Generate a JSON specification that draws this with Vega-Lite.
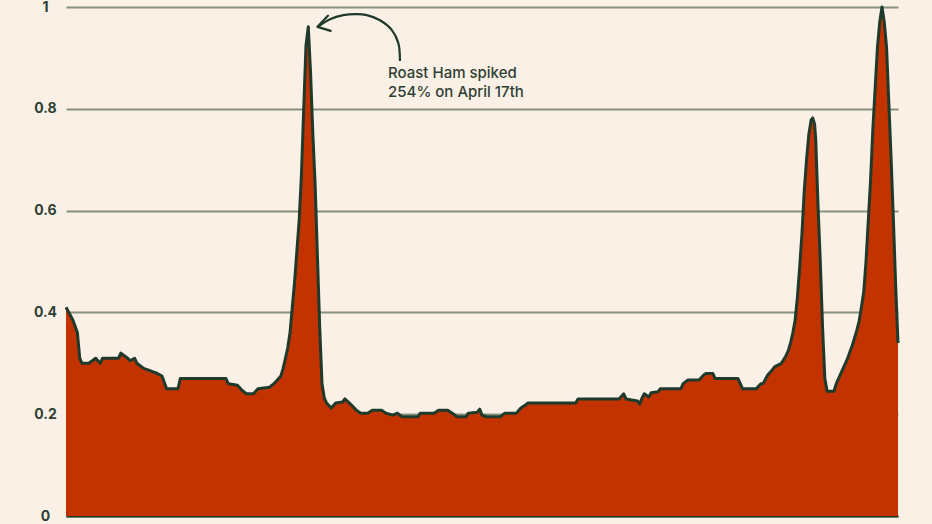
{
  "$schema": "https://vega.github.io/schema/vega-lite/v6.json",
  "width": 832,
  "height": 509,
  "autosize": "none",
  "padding": {"left": 66, "top": 7, "right": 34, "bottom": 8},
  "background": "#FAF0E6",
  "config": {"view": {"stroke": null}, "font": "Inter"},
  "datasets": {
    "series": [
      {"day": 1, "value": 0.41}, {"day": 4, "value": 0.385}, {"day": 6, "value": 0.36}, {"day": 7, "value": 0.31},
      {"day": 8, "value": 0.30}, {"day": 11, "value": 0.30}, {"day": 14, "value": 0.31}, {"day": 16, "value": 0.30},
      {"day": 17, "value": 0.31}, {"day": 24, "value": 0.31}, {"day": 25, "value": 0.32}, {"day": 28, "value": 0.31},
      {"day": 29, "value": 0.305}, {"day": 31, "value": 0.31}, {"day": 32, "value": 0.30}, {"day": 35, "value": 0.29},
      {"day": 38, "value": 0.285}, {"day": 41, "value": 0.28}, {"day": 43, "value": 0.275}, {"day": 45, "value": 0.25},
      {"day": 50, "value": 0.25}, {"day": 51, "value": 0.27}, {"day": 71, "value": 0.27}, {"day": 72, "value": 0.26},
      {"day": 76, "value": 0.257}, {"day": 78, "value": 0.247}, {"day": 80, "value": 0.24}, {"day": 83, "value": 0.24},
      {"day": 85, "value": 0.25}, {"day": 90, "value": 0.253}, {"day": 92, "value": 0.26}, {"day": 95, "value": 0.275},
      {"day": 96, "value": 0.29}, {"day": 97, "value": 0.31}, {"day": 98, "value": 0.33}, {"day": 99, "value": 0.36},
      {"day": 100, "value": 0.41}, {"day": 101, "value": 0.46}, {"day": 102, "value": 0.52}, {"day": 103, "value": 0.58},
      {"day": 104, "value": 0.67}, {"day": 105, "value": 0.80}, {"day": 106, "value": 0.925}, {"day": 107, "value": 0.961},
      {"day": 108, "value": 0.87}, {"day": 109, "value": 0.75}, {"day": 110, "value": 0.65}, {"day": 111, "value": 0.51},
      {"day": 112, "value": 0.37}, {"day": 113, "value": 0.26}, {"day": 114, "value": 0.232}, {"day": 115, "value": 0.222},
      {"day": 117, "value": 0.212}, {"day": 119, "value": 0.222}, {"day": 122, "value": 0.224}, {"day": 123, "value": 0.23},
      {"day": 125, "value": 0.222}, {"day": 128, "value": 0.208}, {"day": 130, "value": 0.202}, {"day": 133, "value": 0.202},
      {"day": 135, "value": 0.208}, {"day": 139, "value": 0.208}, {"day": 141, "value": 0.202}, {"day": 144, "value": 0.198},
      {"day": 146, "value": 0.202}, {"day": 148, "value": 0.195}, {"day": 155, "value": 0.195}, {"day": 156, "value": 0.202},
      {"day": 162, "value": 0.202}, {"day": 164, "value": 0.208}, {"day": 168, "value": 0.208}, {"day": 170, "value": 0.202},
      {"day": 172, "value": 0.195}, {"day": 176, "value": 0.195}, {"day": 177, "value": 0.202}, {"day": 181, "value": 0.204},
      {"day": 182, "value": 0.21}, {"day": 183, "value": 0.198}, {"day": 185, "value": 0.195}, {"day": 191, "value": 0.195},
      {"day": 193, "value": 0.202}, {"day": 198, "value": 0.202}, {"day": 200, "value": 0.212}, {"day": 202, "value": 0.218},
      {"day": 203, "value": 0.222}, {"day": 224, "value": 0.222}, {"day": 225, "value": 0.23}, {"day": 243, "value": 0.23},
      {"day": 245, "value": 0.24}, {"day": 246, "value": 0.23}, {"day": 251, "value": 0.226}, {"day": 252, "value": 0.22},
      {"day": 253, "value": 0.232}, {"day": 254, "value": 0.24}, {"day": 256, "value": 0.234}, {"day": 257, "value": 0.242},
      {"day": 260, "value": 0.244}, {"day": 261, "value": 0.25}, {"day": 270, "value": 0.25}, {"day": 271, "value": 0.26},
      {"day": 273, "value": 0.267}, {"day": 278, "value": 0.267}, {"day": 280, "value": 0.277}, {"day": 281, "value": 0.28},
      {"day": 284, "value": 0.28}, {"day": 285, "value": 0.27}, {"day": 295, "value": 0.27}, {"day": 296, "value": 0.26},
      {"day": 297, "value": 0.25}, {"day": 303, "value": 0.25}, {"day": 305, "value": 0.26}, {"day": 306, "value": 0.26},
      {"day": 308, "value": 0.277}, {"day": 310, "value": 0.287}, {"day": 311, "value": 0.293}, {"day": 314, "value": 0.30},
      {"day": 316, "value": 0.315}, {"day": 317, "value": 0.325}, {"day": 318, "value": 0.34}, {"day": 319, "value": 0.36},
      {"day": 320, "value": 0.385}, {"day": 321, "value": 0.43}, {"day": 322, "value": 0.49}, {"day": 323, "value": 0.556},
      {"day": 324, "value": 0.64}, {"day": 325, "value": 0.70}, {"day": 326, "value": 0.75}, {"day": 327, "value": 0.778},
      {"day": 327.7, "value": 0.782}, {"day": 328.5, "value": 0.77}, {"day": 329, "value": 0.74}, {"day": 330, "value": 0.61},
      {"day": 331, "value": 0.50}, {"day": 332, "value": 0.37}, {"day": 333, "value": 0.27}, {"day": 334, "value": 0.245},
      {"day": 337, "value": 0.245},
      {"day": 338, "value": 0.26}, {"day": 339, "value": 0.27}, {"day": 340, "value": 0.28}, {"day": 341, "value": 0.29},
      {"day": 342, "value": 0.30}, {"day": 343, "value": 0.31}, {"day": 344, "value": 0.323}, {"day": 345, "value": 0.335},
      {"day": 346, "value": 0.35}, {"day": 347, "value": 0.365}, {"day": 348, "value": 0.383}, {"day": 349, "value": 0.41},
      {"day": 350, "value": 0.44}, {"day": 351, "value": 0.50}, {"day": 352, "value": 0.58}, {"day": 353, "value": 0.66},
      {"day": 354, "value": 0.76}, {"day": 355, "value": 0.84}, {"day": 356, "value": 0.92}, {"day": 357, "value": 0.97},
      {"day": 358, "value": 1.0}, {"day": 359, "value": 0.97}, {"day": 360, "value": 0.92}, {"day": 361, "value": 0.81},
      {"day": 362, "value": 0.70}, {"day": 363, "value": 0.58}, {"day": 364, "value": 0.45}, {"day": 365, "value": 0.34}
    ],
    "arc": [
      {"day": 147.1, "value": 0.894, "k": 1}, {"day": 146.4, "value": 0.929, "k": 2}, {"day": 143.5, "value": 0.955, "k": 3},
      {"day": 138.4, "value": 0.974, "k": 4}, {"day": 132.6, "value": 0.984, "k": 5}, {"day": 128.2, "value": 0.986, "k": 6},
      {"day": 122.3, "value": 0.984, "k": 7}, {"day": 116.5, "value": 0.976, "k": 8}, {"day": 111.2, "value": 0.961, "k": 9}
    ],
    "head": [
      {"day": 115.6, "value": 0.983, "k": 1}, {"day": 111.0, "value": 0.961, "k": 2}, {"day": 116.8, "value": 0.953, "k": 3}
    ],
    "note": [
      {"day": 141.9, "value": 0.871, "text": ["Roast Ham spiked", "254% on April 17th"]}
    ]
  },
  "layer": [
    {
      "data": {"name": "series"},
      "mark": {"type": "area", "color": "#C23300", "opacity": 1, "line": {"color": "#1F3A2B", "strokeWidth": 3, "strokeJoin": "round"}},
      "encoding": {
        "x": {"field": "day", "type": "quantitative", "scale": {"domain": [1, 365], "nice": false, "zero": false},
              "axis": {"title": null, "labels": false, "ticks": false, "grid": false, "domain": true, "domainColor": "#1F3A2B", "domainWidth": 2}},
        "y": {"field": "value", "type": "quantitative", "scale": {"domain": [0, 1], "nice": false},
              "axis": {"title": null, "values": [0, 0.2, 0.4, 0.6, 0.8, 1], "format": "~g", "domain": false, "ticks": false,
                       "labelPadding": 21, "labelAlign": "center", "labelFont": "Inter", "labelFontWeight": "bold", "labelFontSize": 14,
                       "labelColor": "#2E4034", "gridColor": "#85927F", "gridWidth": 2, "gridOpacity": 1}}
      }
    },
    {
      "data": {"name": "arc"},
      "mark": {"type": "line", "color": "#1F3A2B", "strokeWidth": 2.2, "interpolate": "catmull-rom"},
      "encoding": {
        "x": {"field": "day", "type": "quantitative"},
        "y": {"field": "value", "type": "quantitative"},
        "order": {"field": "k", "type": "quantitative"}
      }
    },
    {
      "data": {"name": "head"},
      "mark": {"type": "line", "color": "#1F3A2B", "strokeWidth": 2.2, "strokeJoin": "round", "strokeCap": "round"},
      "encoding": {
        "x": {"field": "day", "type": "quantitative"},
        "y": {"field": "value", "type": "quantitative"},
        "order": {"field": "k", "type": "quantitative"}
      }
    },
    {
      "data": {"name": "note"},
      "mark": {"type": "text", "align": "left", "baseline": "middle", "font": "Inter", "fontSize": 15, "fontWeight": 500, "lineHeight": 19, "color": "#2E4034"},
      "encoding": {
        "x": {"field": "day", "type": "quantitative"},
        "y": {"field": "value", "type": "quantitative"},
        "text": {"field": "text"}
      }
    }
  ]
}
